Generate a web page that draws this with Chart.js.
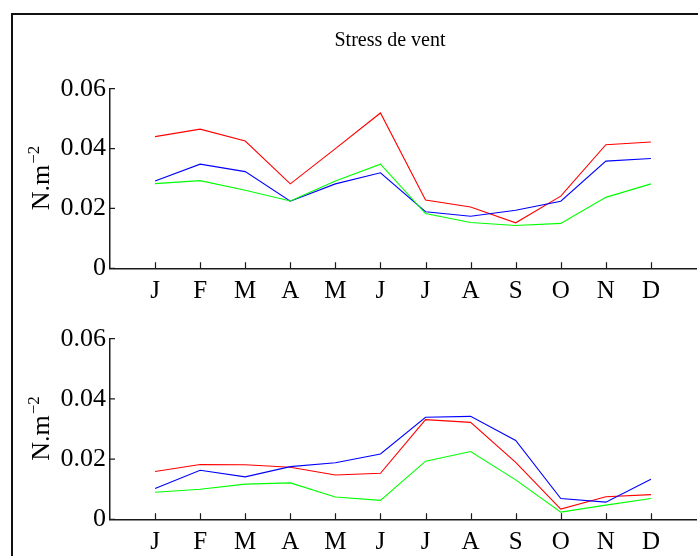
<!DOCTYPE html>
<html>
<head>
<meta charset="utf-8">
<script src="https://cdn.jsdelivr.net/npm/chart.js@4/dist/chart.umd.min.js"></script>
<style>
  html, body { margin: 0; padding: 0; background: #fff; }
  #wrap { position: relative; width: 698px; height: 556px; overflow: hidden; background: #fff; }
  #frame { position: absolute; left: 11px; top: 13px; width: 700px; height: 560px;
           border-left: 2px solid #111; border-top: 2px solid #111; }
  canvas { position: absolute; left: 0; }
  #c1 { top: 0; }
  #c2 { top: 300px; }
</style>
</head>
<body>
<div id="wrap">
  <div id="frame"></div>
  <canvas id="c1" width="698" height="300"></canvas>
  <canvas id="c2" width="698" height="256"></canvas>
</div>
<script>
// ---- data ----
const months = ['J','F','M','A','M','J','J','A','S','O','N','D'];
const yTickValues = [0, 0.02, 0.04, 0.06];
const yTickLabels = ['0', '0.02', '0.04', '0.06'];
const chartTitle = 'Stress de vent';
const yTitleMain = 'N.m';
const yTitleSup = '\u22122';

const topRed   = [0.0440, 0.0465, 0.0425, 0.0282, 0.0400, 0.0519, 0.0228, 0.0205, 0.0152, 0.0241, 0.0413, 0.0422];
const topBlue  = [0.0292, 0.0348, 0.0323, 0.0224, 0.0282, 0.0319, 0.0189, 0.0174, 0.0194, 0.0224, 0.0358, 0.0367];
const topGreen = [0.0283, 0.0293, 0.0261, 0.0225, 0.0292, 0.0348, 0.0183, 0.0153, 0.0143, 0.0150, 0.0237, 0.0282];

const botRed   = [0.0159, 0.0182, 0.0181, 0.0173, 0.0147, 0.0153, 0.0331, 0.0322, 0.0189, 0.0034, 0.0075, 0.0082];
const botBlue  = [0.0102, 0.0163, 0.0141, 0.0175, 0.0188, 0.0217, 0.0339, 0.0342, 0.0262, 0.0069, 0.0057, 0.0133];
const botGreen = [0.0090, 0.0100, 0.0117, 0.0121, 0.0074, 0.0063, 0.0193, 0.0225, 0.0131, 0.0024, 0.0047, 0.0069];

// ---- styling ----
const SERIF = '"Liberation Serif", "Times New Roman", serif';
const AXIS_COLOR = '#1a1a1a';

function toPoints(arr) { return arr.map((v, i) => ({ x: i + 1, y: v })); }

const insideTicks = {
  id: 'insideTicks',
  afterDraw(chart) {
    const ctx = chart.ctx, xs = chart.scales.x, ys = chart.scales.y;
    ctx.save();
    ctx.strokeStyle = AXIS_COLOR;
    ctx.lineWidth = 1.2;
    ctx.beginPath();
    xs.ticks.forEach(t => {
      const px = Math.round(xs.getPixelForValue(t.value)) + 0.5;
      ctx.moveTo(px, ys.bottom);
      ctx.lineTo(px, ys.bottom - 6);
    });
    ys.ticks.forEach(t => {
      const py = ys.getPixelForValue(t.value);
      ctx.moveTo(xs.left, py);
      ctx.lineTo(xs.left + 5, py);
    });
    ctx.stroke();
    ctx.restore();
  }
};

const yTitlePlugin = {
  id: 'yTitle',
  afterDraw(chart) {
    const ctx = chart.ctx, ys = chart.scales.y;
    const cy = (ys.top + ys.bottom) / 2;
    ctx.save();
    ctx.fillStyle = '#000';
    ctx.translate(48.5, cy);
    ctx.rotate(-Math.PI / 2);
    ctx.textBaseline = 'alphabetic';
    ctx.textAlign = 'left';
    ctx.font = '26px ' + SERIF;
    const w1 = ctx.measureText(yTitleMain).width;
    ctx.font = '17px ' + SERIF;
    const w2 = ctx.measureText(yTitleSup).width;
    const x0 = -(w1 + w2) / 2;
    ctx.font = '26px ' + SERIF;
    ctx.fillText(yTitleMain, x0, 0);
    ctx.font = '17px ' + SERIF;
    ctx.fillText(yTitleSup, x0 + w1 + 1, -10);
    ctx.restore();
  }
};

const titlePlugin = {
  id: 'figTitle',
  afterDraw(chart, args, opts) {
    if (!opts || !opts.text) return;
    const ctx = chart.ctx;
    ctx.save();
    ctx.fillStyle = '#000';
    ctx.font = '20px ' + SERIF;
    ctx.textAlign = 'center';
    ctx.textBaseline = 'alphabetic';
    ctx.fillText(opts.text, 390, 46);
    ctx.restore();
  }
};

function makeChart(id, red, blue, green, padTop, xHeight, title) {
  return new Chart(document.getElementById(id), {
    type: 'line',
    data: {
      datasets: [
        { data: toPoints(green), borderColor: '#00ff00' },
        { data: toPoints(blue),  borderColor: '#0000ff' },
        { data: toPoints(red),   borderColor: '#ff0000' }
      ]
    },
    options: {
      responsive: false,
      animation: false,
      devicePixelRatio: 1,
      layout: { padding: { top: padTop, right: 2, bottom: 0, left: 0 } },
      elements: {
        point: { radius: 0 },
        line: { borderWidth: 1.1, tension: 0, fill: false }
      },
      plugins: {
        legend: { display: false },
        tooltip: { enabled: false },
        figTitle: { text: title }
      },
      scales: {
        x: {
          type: 'linear',
          min: 0, max: 13,
          afterBuildTicks: s => { s.ticks = months.map((m, i) => ({ value: i + 1 })); },
          afterFit: s => { s.height = xHeight; },
          grid: { display: false, drawTicks: false },
          border: { display: true, color: AXIS_COLOR, width: 1.5 },
          ticks: {
            autoSkip: false, maxRotation: 0, minRotation: 0,
            padding: 8,
            color: '#000',
            font: { family: SERIF, size: 25 },
            callback: v => months[v - 1]
          }
        },
        y: {
          type: 'linear',
          min: 0, max: 0.06,
          afterBuildTicks: s => { s.ticks = yTickValues.map(v => ({ value: v })); },
          afterFit: s => { s.width = 110; },
          grid: { display: false, drawTicks: false },
          border: { display: true, color: AXIS_COLOR, width: 1.5 },
          ticks: {
            padding: 4,
            color: '#000',
            font: { family: SERIF, size: 26 },
            callback: (v) => yTickLabels[yTickValues.indexOf(v)]
          }
        }
      }
    },
    plugins: [insideTicks, yTitlePlugin, titlePlugin]
  });
}

makeChart('c1', topRed, topBlue, topGreen, 88.7, 31.7, chartTitle);
makeChart('c2', botRed, botBlue, botGreen, 38.7, 36.7, '');
</script>
</body>
</html>
